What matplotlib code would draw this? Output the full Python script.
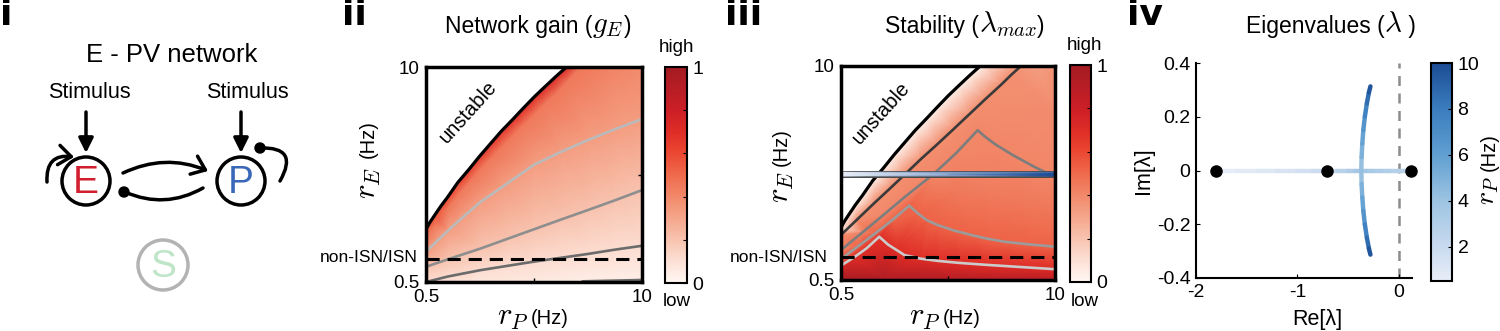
import numpy as np
import matplotlib
matplotlib.use('Agg')
import matplotlib.pyplot as plt
from matplotlib.colors import LinearSegmentedColormap, Normalize
from matplotlib.patches import Circle, FancyArrowPatch
from matplotlib.collections import LineCollection
import matplotlib.cm as cm

plt.rcParams['font.family'] = ['Liberation Sans', 'DejaVu Sans']
plt.rcParams['mathtext.fontset'] = 'cm'
plt.rcParams['axes.unicode_minus'] = False

# ---------------- data ----------------
# shared stability boundary (rP, rE in Hz)
BOUND_RP = [0.5, 0.68, 0.88, 1.15, 1.45, 1.9, 2.4, 2.85, 3.35, 3.8, 4.3, 4.75, 5.25, 5.7, 6.2, 6.68]
BOUND_RE = [2.83, 3.15, 3.45, 3.85, 4.25, 4.9, 5.49, 6.05, 6.63, 7.15, 7.67, 8.15, 8.67, 9.1, 9.57, 10.0]
ISN_RE = 1.5

# panel ii : network gain contours
GAIN_BOUND_VAL = [0.56, 0.57, 0.58, 0.6, 0.62, 0.64, 0.65, 0.66, 0.67, 0.68, 0.69, 0.7, 0.71,
                  0.72, 0.73, 0.74]
GAIN_H_RP = [0.5, 0.88, 1.45, 1.9, 2.4, 2.85, 3.35, 3.8, 4.3, 4.75, 5.25, 5.7, 6.2, 6.75, 7.3]
GAIN_H_RE = [2.45, 3.0, 3.75, 4.35, 4.9, 5.45, 5.95, 6.45, 6.95, 7.4, 7.9, 8.35, 8.8, 9.4, 10.0]
GAIN_H_VAL = 0.45
GAIN_L_RP = [0.5, 0.975, 1.45, 1.925, 2.875, 3.825, 5.25, 6.44, 7.625, 8.81, 10]
GAIN_L_RE = [1.85, 2.3, 2.75, 3.19, 4.02, 4.68, 5.68, 6.25, 6.77, 7.25, 7.7]
GAIN_L_VAL = 0.33
GAIN_M_RP = [0.5, 1.45, 2.875, 4.06, 5.25, 6.44, 7.625, 8.81, 10]
GAIN_M_RE = [1.17, 1.5, 1.97, 2.4, 2.83, 3.26, 3.68, 4.11, 4.56]
GAIN_M_VAL = 0.2
GAIN_D_RP = [0.5, 1.45, 2.875, 4.06, 5.25, 6.44, 7.625, 8.81, 10]
GAIN_D_RE = [0.5, 0.74, 1.02, 1.21, 1.4, 1.57, 1.74, 1.93, 2.1]
GAIN_D_VAL = 0.11
GAIN_B0_RP = [7.4, 8.7, 10]
GAIN_B0_RE = [0.53, 0.56, 0.59]
GAIN_B0_VAL = 0.04
GAIN_X_RP = [0.5, 3.0, 8.6, 10, 10, 5.0, 2.5]
GAIN_X_RE = [10, 10, 10, 10, 0.5, 0.5, 0.5]
GAIN_X_VAL = [0.75, 0.75, 0.42, 0.39, 0.03, 0.06, 0.08]

# panel iii : stability contours
STAB_BOUND_VAL = 0.04
STAB_K_RP = [0.5, 1.2, 1.93, 2.65, 3.35, 4.05, 4.78, 5.5, 6.2, 6.9, 7.63, 8.05, 8.49]
STAB_K_RE = [2.5, 3.17, 3.87, 4.54, 5.2, 5.87, 6.53, 7.2, 7.86, 8.52, 9.19, 9.6, 10.0]
STAB_K_VAL = 0.38
STAB_P1_RP = [0.5, 1.45, 2.4, 3.35, 4.64, 5.63, 6.57, 6.87, 7.34, 8.1, 9.05, 10]
STAB_P1_RE = [1.83, 2.61, 3.4, 4.2, 5.23, 6.15, 7.15, 6.88, 6.53, 6.06, 5.54, 5.08]
STAB_P1_VAL = 0.41
STAB_P2_RP = [0.5, 1.26, 2.02, 2.78, 3.53, 3.92, 4.3, 4.79, 5.54, 6.27, 6.96, 7.75, 8.86, 10]
STAB_P2_RE = [1.43, 2.0, 2.57, 3.16, 3.8, 3.45, 3.16, 2.94, 2.69, 2.5, 2.34, 2.2, 2.08, 1.98]
STAB_P2_VAL = 0.52
STAB_P3_RP = [0.5, 1.07, 1.64, 2.2, 2.59, 2.97, 3.31, 4.02, 4.79, 5.73, 7.0, 8.58, 10]
STAB_P3_RE = [1.14, 1.5, 1.91, 2.42, 2.07, 1.83, 1.61, 1.45, 1.35, 1.26, 1.17, 1.07, 0.98]
STAB_P3_VAL = 0.7
STAB_X_RP = [0.5, 3.5, 9.2, 10, 10, 0.5, 2.5, 5.5, 10, 5.5, 7.0, 8.5, 10]
STAB_X_RE = [10, 10, 10, 10, 8.0, 0.5, 0.5, 0.5, 0.5, 4.4, 4.5, 4.0, 3.5]
STAB_X_VAL = [0.04, 0.04, 0.33, 0.37, 0.39, 0.98, 0.95, 0.92, 0.89, 0.45, 0.44, 0.45, 0.46]
BLUE_RE = 5.2
BLUE_RP = [0.5, 10]

# panel iv : eigenvalue trajectories
IV_DOT_RE = [-1.8, -0.71, 0.12]
IV_DOT_IM = [0, 0, 0]
IV_LEFT_RE = [-1.8, -1.6, -1.4, -1.2, -1.0, -0.85, -0.71, -0.6, -0.5, -0.43, -0.37]
IV_LEFT_RP = [0.5, 0.7, 0.9, 1.1, 1.4, 1.7, 2.0, 2.5, 3.0, 3.4, 3.8]
IV_RIGHT_RE = [0.12, 0.05, -0.02, -0.1, -0.18, -0.26, -0.32, -0.37]
IV_RIGHT_RP = [2.4, 2.6, 2.8, 3.0, 3.2, 3.4, 3.6, 3.8]
IV_CPLX_RE = [-0.37, -0.367, -0.36, -0.35, -0.335, -0.315, -0.295, -0.28]
IV_CPLX_IM = [0, 0.05, 0.1, 0.15, 0.2, 0.25, 0.29, 0.313]
IV_CPLX_RP = [3.8, 4.6, 5.4, 6.2, 7.1, 8.2, 9.2, 10]

# ---------------- styles ----------------
reds = LinearSegmentedColormap.from_list('reds', [
    (0.0, '#FFF7F3'), (0.1, '#FCE0D5'), (0.2, '#F8C3AF'), (0.3, '#F5A68B'),
    (0.4, '#F2896A'), (0.5, '#EF6A4D'), (0.6, '#EB4832'), (0.7, '#DF2C26'),
    (0.8, '#CC1F26'), (0.9, '#B81D25'), (1.0, '#A31B22')])
blues = LinearSegmentedColormap.from_list('blues', [
    (0.0, '#E8EEF8'), (0.158, '#C8DAEF'), (0.368, '#9DC4E2'),
    (0.579, '#609FD1'), (0.789, '#3B7DBF'), (1.0, '#1B4C94')])
rp_norm = Normalize(0.5, 10)

W, H = 1500, 331
fig = plt.figure(figsize=(15, 3.31), dpi=100)
renderer = fig.canvas.get_renderer()


def ax_px(l, t, r, b):
    return fig.add_axes([l / W, 1 - b / H, (r - l) / W, (b - t) / H])


def ftext(x, y, s, **kw):
    kw.setdefault('ha', 'center')
    kw.setdefault('va', 'center')
    return fig.text(x / W, 1 - y / H, s, **kw)


def title_row(cx, y, parts):
    texts = [ftext(0, y, s, ha='left', va='baseline', fontsize=fs) for s, fs in parts]
    widths = [t.get_window_extent(renderer).width for t in texts]
    x = cx - sum(widths) / 2
    for t, w in zip(texts, widths):
        t.set_x(x / W)
        x += w


def heat_axes(ax):
    ax.set_xlim(0.5, 10)
    ax.set_ylim(0.5, 10)
    ax.set_xticks([0.5, 5.25, 10])
    ax.set_xticklabels(['0.5', '', '10'])
    ax.set_yticks([0.5, 5.25, 10])
    ax.set_yticklabels(['0.5', '', '10'])
    ax.tick_params(direction='in', length=3, width=1, labelsize=13.5,
                   top=True, right=True, pad=5)
    for s in ax.spines.values():
        s.set_linewidth(2.5)
        s.set_zorder(10)


def red_cbar(cax):
    cb = fig.colorbar(cm.ScalarMappable(norm=Normalize(0, 1), cmap=reds), cax=cax)
    cb.set_ticks([0, 0.2, 0.4, 0.6, 0.8, 1])
    cb.set_ticklabels(['0', '', '', '', '', '1'])
    cax.tick_params(direction='in', length=3, labelsize=14, pad=4)
    cb.outline.set_linewidth(1.5)


# ---------------- panel i ----------------
ax1 = fig.add_axes([0, 0, 330 / W, 1])
ax1.set_xlim(0, 330)
ax1.set_ylim(0, 331)
ax1.axis('off')


def Y(v):
    return 331 - v


ax1.text(172, Y(55), 'E - PV network', fontsize=18.5, ha='center', va='center')
for xs, xa in ((89.5, 86), (247, 241)):
    ax1.text(xs, Y(93), 'Stimulus', fontsize=15.5, ha='center', va='center')
    ax1.annotate('', xy=(xa, Y(153)), xytext=(xa, Y(112)),
                 arrowprops=dict(arrowstyle='-|>', lw=2.5, color='black',
                                 mutation_scale=22, shrinkA=0, shrinkB=0))
ax1.add_patch(Circle((86, Y(181)), 24, fill=False, lw=2.5, ec='black'))
ax1.add_patch(Circle((241, Y(181)), 24, fill=False, lw=2.5, ec='black'))
ax1.add_patch(Circle((163, Y(265)), 25, fill=False, lw=2.5, ec='#B3B3B3'))
ax1.text(86, Y(183), 'E', fontsize=28, color='#D21F2F', ha='center', va='center')
ax1.text(241, Y(183), 'P', fontsize=28, color='#3A68B8', ha='center', va='center')
ax1.text(163, Y(267), 'S', fontsize=28, color='#BFE5C9', ha='center', va='center')
arrow_kw = dict(lw=2.5, color='black', shrinkA=0, shrinkB=0)
ax1.add_patch(FancyArrowPatch((47, Y(182)), (74, Y(157)), connectionstyle='arc3,rad=-0.6',
                              arrowstyle='->,head_length=0.45,head_width=0.35',
                              mutation_scale=20, **arrow_kw))
ax1.add_patch(FancyArrowPatch((123, Y(173)), (208, Y(171)), connectionstyle='arc3,rad=-0.22',
                              arrowstyle='->,head_length=0.45,head_width=0.35',
                              mutation_scale=20, **arrow_kw))
ax1.add_patch(FancyArrowPatch((203, Y(188)), (125, Y(192)), connectionstyle='arc3,rad=-0.25',
                              arrowstyle='-', **arrow_kw))
ax1.add_patch(Circle((124, Y(192)), 5, color='black'))
ax1.add_patch(FancyArrowPatch((260, Y(148)), (280, Y(181)), connectionstyle='arc3,rad=-0.9',
                              arrowstyle='-', **arrow_kw))
ax1.add_patch(Circle((260, Y(148)), 5, color='black'))

# ---------------- panel ii ----------------
ax2 = ax_px(426, 67, 642, 282)
gx = np.concatenate([BOUND_RP, GAIN_H_RP, GAIN_L_RP, GAIN_M_RP, GAIN_D_RP, GAIN_B0_RP, GAIN_X_RP])
gy = np.concatenate([BOUND_RE, GAIN_H_RE, GAIN_L_RE, GAIN_M_RE, GAIN_D_RE, GAIN_B0_RE, GAIN_X_RE])
gc = np.concatenate([GAIN_BOUND_VAL, np.full(len(GAIN_H_RP), GAIN_H_VAL),
                     np.full(len(GAIN_L_RP), GAIN_L_VAL), np.full(len(GAIN_M_RP), GAIN_M_VAL),
                     np.full(len(GAIN_D_RP), GAIN_D_VAL), np.full(len(GAIN_B0_RP), GAIN_B0_VAL),
                     GAIN_X_VAL])
ax2.tripcolor(gx, gy, gc, shading='gouraud', cmap=reds, vmin=0, vmax=1, zorder=1)
ax2.fill(np.r_[BOUND_RP, 0.5], np.r_[BOUND_RE, 10], color='white', lw=0, zorder=2)
ax2.plot(GAIN_L_RP, GAIN_L_RE, color='#BABABA', lw=1.9, zorder=3)
ax2.plot(GAIN_M_RP, GAIN_M_RE, color='#8E8E8E', lw=1.9, zorder=3)
ax2.plot(GAIN_D_RP, GAIN_D_RE, color='#6B6B6B', lw=1.9, zorder=3)
ax2.plot(GAIN_B0_RP, GAIN_B0_RE, color='#6B6B6B', lw=1.9, zorder=3)
ax2.plot(BOUND_RP, BOUND_RE, color='black', lw=2.3, zorder=4)
ax2.axhline(ISN_RE, color='black', lw=2.2, dashes=(4.3, 2.6), zorder=5)
ax2.text(2.37, 8.0, 'unstable', rotation=48, rotation_mode='anchor', ha='center',
         va='center', fontsize=14.5, zorder=6)
heat_axes(ax2)
red_cbar(ax_px(665, 67, 687, 283))

# ---------------- panel iii ----------------
ax3 = ax_px(841, 66, 1055, 280)
sx = np.concatenate([BOUND_RP, STAB_K_RP, STAB_P1_RP, STAB_P2_RP, STAB_P3_RP, STAB_X_RP])
sy = np.concatenate([BOUND_RE, STAB_K_RE, STAB_P1_RE, STAB_P2_RE, STAB_P3_RE, STAB_X_RE])
sc = np.concatenate([np.full(len(BOUND_RP), STAB_BOUND_VAL), np.full(len(STAB_K_RP), STAB_K_VAL),
                     np.full(len(STAB_P1_RP), STAB_P1_VAL), np.full(len(STAB_P2_RP), STAB_P2_VAL),
                     np.full(len(STAB_P3_RP), STAB_P3_VAL), STAB_X_VAL])
ax3.tripcolor(sx, sy, sc, shading='gouraud', cmap=reds, vmin=0, vmax=1, zorder=1)
ax3.fill(np.r_[BOUND_RP, 0.5], np.r_[BOUND_RE, 10], color='white', lw=0, zorder=2)
ax3.plot(STAB_K_RP, STAB_K_RE, color='#3A3A3A', lw=1.9, zorder=3)
ax3.plot(STAB_P1_RP, STAB_P1_RE, color='#7D7D7D', lw=1.9, zorder=3)
ax3.plot(STAB_P2_RP, STAB_P2_RE, color='#9B9B9B', lw=1.9, zorder=3)
ax3.plot(STAB_P3_RP, STAB_P3_RE, color='#CBCBCB', lw=1.9, zorder=3)
ax3.plot(BOUND_RP, BOUND_RE, color='black', lw=2.3, zorder=4)
ax3.axhline(ISN_RE, color='black', lw=2.2, dashes=(4.3, 2.6), zorder=5)
ax3.axhline(BLUE_RE, color='#4A4A4A', lw=5.0, zorder=6)
dy = 0.08
ax3.pcolormesh(BLUE_RP, [BLUE_RE - dy, BLUE_RE + dy], [BLUE_RP, BLUE_RP], shading='gouraud',
               cmap=blues, norm=rp_norm, zorder=7)
ax3.text(2.28, 7.9, 'unstable', rotation=48, rotation_mode='anchor', ha='center',
         va='center', fontsize=14.5, zorder=8)
heat_axes(ax3)
red_cbar(ax_px(1070, 65, 1091, 282))

# ---------------- panel iv ----------------
ax4 = ax_px(1196, 63, 1412, 278)
ax4.axvline(0, color='#8C8C8C', lw=1.8, dashes=(4, 3), zorder=1)


def traj(re, im, rp):
    pts = np.column_stack([re, im])
    segs = np.stack([pts[:-1], pts[1:]], axis=1)
    lc = LineCollection(segs, cmap=blues, norm=rp_norm, linewidths=3.2,
                        capstyle='round', zorder=3)
    rp = np.asarray(rp, float)
    lc.set_array(0.5 * (rp[:-1] + rp[1:]))
    ax4.add_collection(lc)


traj(IV_LEFT_RE, np.zeros(len(IV_LEFT_RE)), IV_LEFT_RP)
traj(IV_RIGHT_RE, np.zeros(len(IV_RIGHT_RE)), IV_RIGHT_RP)
traj(IV_CPLX_RE, IV_CPLX_IM, IV_CPLX_RP)
traj(IV_CPLX_RE, -np.asarray(IV_CPLX_IM), IV_CPLX_RP)
ax4.plot(IV_DOT_RE, IV_DOT_IM, 'o', color='black', ms=8, clip_on=False, zorder=5)
ax4.set_xlim(-2, 0.13)
ax4.set_ylim(-0.4, 0.4)
ax4.set_xticks([-2, -1, 0])
ax4.set_xticklabels(['-2', '-1', '0'])
ax4.set_yticks([-0.4, -0.2, 0, 0.2, 0.4])
ax4.set_yticklabels(['-0.4', '-0.2', '0', '0.2', '0.4'])
ax4.spines['top'].set_visible(False)
ax4.spines['right'].set_visible(False)
ax4.spines['left'].set_linewidth(1.5)
ax4.spines['bottom'].set_linewidth(1.5)
ax4.tick_params(direction='in', length=3, labelsize=14, pad=4)
cax4 = ax_px(1431, 63, 1452, 281)
cb4 = fig.colorbar(cm.ScalarMappable(norm=rp_norm, cmap=blues), cax=cax4)
cb4.set_ticks([2, 4, 6, 8, 10])
cax4.tick_params(direction='in', length=3, labelsize=14, pad=4)
cb4.outline.set_linewidth(1.5)

# ---------------- texts ----------------
lab_kw = dict(fontsize=26, fontweight='bold', family='DejaVu Sans', ha='left', va='top')
ftext(0, -2, 'i', **lab_kw)
ftext(342, -2, 'ii', **lab_kw)
ftext(725, -2, 'iii', **lab_kw)
ftext(1127, -2, 'iv', **lab_kw)

title_row(538, 32.5, [('Network gain (', 16.5), ('$g_E$', 21), (')', 16.5)])
title_row(965, 32.5, [('Stability (', 16.5), ('$\\lambda_{max}$', 21), (')', 16.5)])
title_row(1331, 32.5, [('Eigenvalues (', 16.5), ('$\\lambda$', 21), (' )', 16.5)])

for xl, yr, yh, xr, xh in ((368, 183, 139, 513, 550), (781, 187, 147, 925, 962)):
    ftext(xl, yr, '$r_E$', fontsize=22, rotation=90)
    ftext(xl, yh, '(Hz)', fontsize=14.5, rotation=90)
    ftext(xr, 317, '$r_P$', fontsize=22)
    ftext(xh, 319, '(Hz)', fontsize=14.5)
ftext(418, 257, 'non-ISN/ISN', fontsize=12.5, ha='right')
ftext(828, 257, 'non-ISN/ISN', fontsize=12.5, ha='right')
ftext(677, 47, 'high', fontsize=13.5)
ftext(677, 302, 'low', fontsize=13.5)
ftext(1084, 45, 'high', fontsize=13.5)
ftext(1085, 302, 'low', fontsize=13.5)

ftext(1144, 171, 'Im[λ]', fontsize=15.5, rotation=90)
ftext(1317, 320, 'Re[λ]', fontsize=15.5)
ftext(1488, 190, '$r_P$', fontsize=20, rotation=90)
ftext(1489, 152, '(Hz)', fontsize=14.5, rotation=90)

fig.savefig('out.png', dpi=100)
